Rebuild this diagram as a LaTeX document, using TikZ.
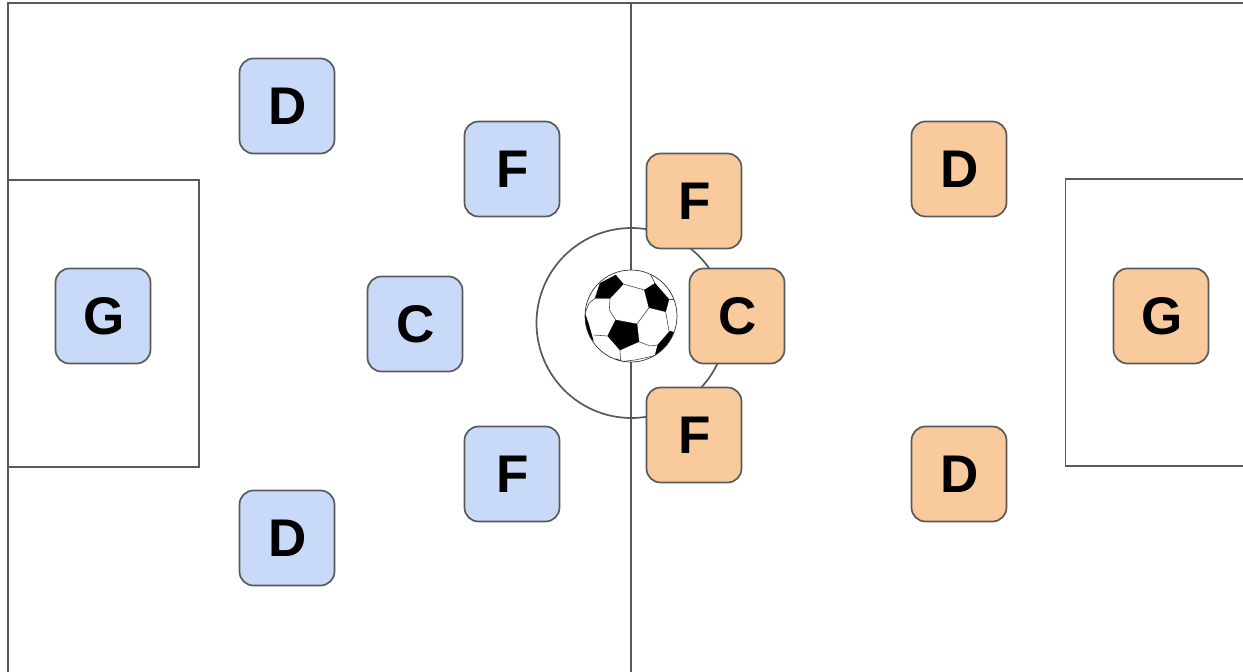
\documentclass[tikz,border=0pt]{standalone}
\usepackage{fontspec}
\setmainfont{Liberation Sans}
\definecolor{ln}{HTML}{595959}
\definecolor{blu}{HTML}{C9DAF8}
\definecolor{org}{HTML}{F9CB9C}
\tikzset{
  player/.style={draw=ln,line width=1.7pt,rounded corners=14pt,minimum width=95pt,minimum height=95pt,inner sep=0pt,font=\fontsize{53}{53}\selectfont\bfseries,text=black,execute at begin node=\hspace*{2pt}},
  home/.style={player,fill=blu},
  away/.style={player,fill=org},
  field/.style={draw=ln,line width=1.7pt},
  seam/.style={draw=black!70,line width=0.6pt},
  patch/.style={fill=black,draw=black,line width=0.3pt,line join=round}
}
\begin{document}
\begin{tikzpicture}[x=1pt,y=-1pt]
\useasboundingbox (0,0) rectangle (1243,672);
\fill[white] (0,0) rectangle (1243,672);
% pitch
\draw[field,line width=2pt] (8,672) -- (8,3) -- (1243,3);
\draw[field,line width=2pt] (631,3) -- (631,672);
\draw[field] (8,180) -- (199,180) -- (199,467) -- (8,467);
\draw[field] (1243,179) -- (1065.5,179) -- (1065.5,466) -- (1243,466);
\draw[field] (631.5,323) circle[radius=95];
% ball
\begin{scope}[shift={(575,260)},x=0.3333pt,y=-0.3333pt]
\fill[white] (168,168) circle[radius=138];
\clip (168,168) circle[radius=138];
\draw[patch] (75,70) -- (122,45) -- (145,72) -- (105,115) -- (60,115) -- cycle;
\draw[patch] (240,70) -- (282,118) -- (272,155) -- (222,143) -- (208,90) -- cycle;
\draw[patch] (122,180) -- (186,192) -- (192,245) -- (135,270) -- (98,228) -- cycle;
\draw[patch] (285,213) -- (300,218) -- (270,265) -- (240,287) -- (248,255) -- cycle;
\draw[patch] (30,160) -- (40,190) -- (55,242) -- (40,225) -- (25,190) -- cycle;
\draw[patch] (122,296) -- (140,303) -- (130,310) -- cycle;
\draw[seam] (105,115) -- (103,150) -- (122,180);
\draw[seam] (145,72) -- (208,90);
\draw[seam] (222,143) -- (186,192);
\draw[seam] (192,245) -- (225,258) -- (248,255);
\draw[seam] (135,270) -- (137,305);
\draw[seam] (98,228) -- (55,225);
\draw[seam] (60,115) -- (42,130) -- (30,160);
\draw[seam] (272,155) -- (282,213);
\draw[seam] (282,118) -- (300,118);
\draw[seam] (240,70) -- (225,40);
\draw[seam] (137,305) -- (180,300) -- (240,287);
\end{scope}
\draw[black!80,line width=0.7pt] (631,316) circle[radius=46];
% players
\node[home] (d1) at (287,106) {D};
\node[home] (f1) at (512,169) {F};
\node[home] (g1) at (103,316) {G};
\node[home] (c1) at (415,324) {C};
\node[home] (f2) at (512,474) {F};
\node[home] (d2) at (287,538) {D};
\node[away] (f3) at (694,201) {F};
\node[away] (d3) at (959,169) {D};
\node[away] (c2) at (737,316) {C};
\node[away] (g2) at (1161,316) {G};
\node[away] (f4) at (694,435) {F};
\node[away] (d4) at (959,474) {D};
\end{tikzpicture}
\end{document}
